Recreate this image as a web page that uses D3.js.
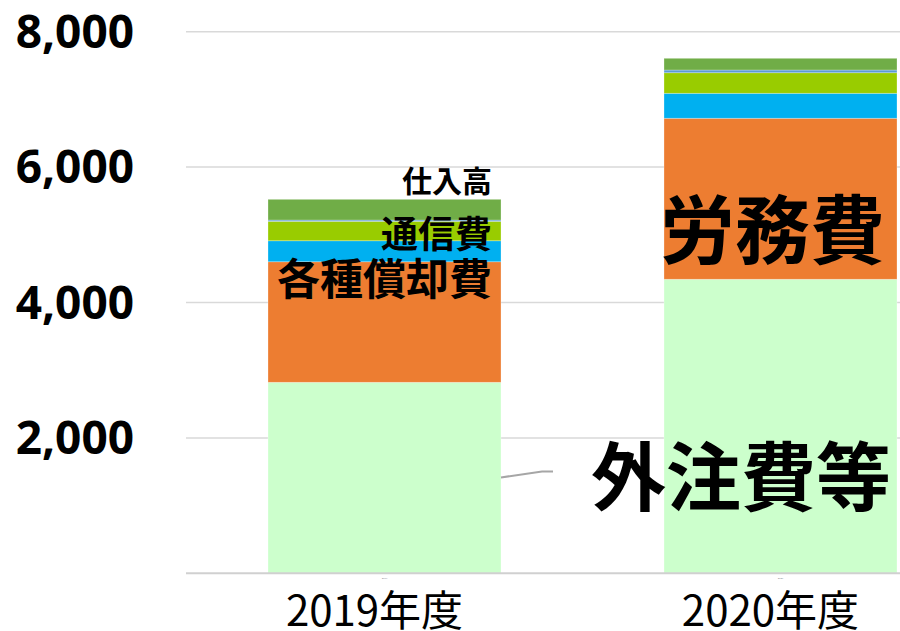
<!DOCTYPE html>
<html><head><meta charset="utf-8">
<script src="https://cdn.jsdelivr.net/npm/d3@7"></script>
<style>
html,body{margin:0;padding:0;background:#fff;}
svg{display:block;}
</style></head>
<body>
<script>
// ---- data ----
const years = ["2019年度", "2020年度"];
const seriesNames = ["外注費等", "労務費", "各種償却費", "通信費", "その他", "仕入高"];
const gaichu   = [2821, 4343];
const roumu    = [1781, 2378];
const shokyaku = [310, 369];
const tsushin  = [287, 304];
const sonota   = [19, 40];
const shiire   = [306, 173];
const colors = ["#ccffcc", "#ed7d31", "#00b0f0", "#99cc00", "#5b9bd5", "#70ad47"];
const yTicks = [2000, 4000, 6000, 8000];

const W = 900, H = 631;
const svg = d3.select("body").append("svg").attr("width", W).attr("height", H);

const y = d3.scaleLinear().domain([0, 8000]).range([573.3, 31.7]);
const x = d3.scaleBand().domain(years).range([268, 897]).paddingInner(0.4116).paddingOuter(0);

const seriesVals = [gaichu, roumu, shokyaku, tsushin, sonota, shiire];
const table = years.map((yr, i) => {
  const o = {year: yr};
  seriesNames.forEach((s, k) => o[s] = seriesVals[k][i]);
  return o;
});
const stacked = d3.stack().keys(seriesNames)(table);

// gridlines
svg.append("g").selectAll("line").data(yTicks).join("line")
  .attr("x1", 186).attr("x2", 900)
  .attr("y1", d => y(d)).attr("y2", d => y(d))
  .attr("stroke", "#d9d9d9").attr("stroke-width", 1.5);

// bars
svg.append("g").selectAll("g").data(stacked).join("g")
  .attr("fill", (d, i) => colors[i])
  .selectAll("rect").data(d => d).join("rect")
  .attr("x", d => x(d.data.year))
  .attr("width", x.bandwidth())
  .attr("y", d => y(d[1]))
  .attr("height", d => y(d[0]) - y(d[1]))
  .attr("stroke", "#ffffff").attr("stroke-opacity", 0.35).attr("stroke-width", 0.8);

// baseline
svg.append("line").attr("x1", 186).attr("x2", 900)
  .attr("y1", y(0)).attr("y2", y(0))
  .attr("stroke", "#d0d0d0").attr("stroke-width", 2);

// y tick labels
svg.append("g").selectAll("text").data(yTicks).join("text")
  .attr("x", 134).attr("y", d => y(d) + 16)
  .attr("text-anchor", "end")
  .attr("font-family", "'Open Sans', sans-serif")
  .attr("font-weight", 700).attr("font-size", 46)
  .attr("fill", "#000")
  .text(d => d3.format(",")(d));

// x labels
svg.append("g").selectAll("text").data(years).join("text")
  .attr("x", d => x(d) + x.bandwidth() / 2 - 10)
  .attr("y", 626)
  .attr("text-anchor", "middle")
  .attr("font-family", "'Noto Sans CJK JP', sans-serif")
  .attr("font-weight", 400).attr("font-size", 42)
  .attr("fill", "#000")
  .attr("transform", d => `translate(0,0)`)
  .text(d => d);

// tiny marks under the axis
svg.append("g").selectAll("text").data(years).join("text")
  .attr("x", d => x(d) + x.bandwidth() / 2)
  .attr("y", 579)
  .attr("text-anchor", "middle")
  .attr("font-family", "'Liberation Sans', sans-serif")
  .attr("font-size", 2.5).attr("fill", "#888")
  .text(d => d.slice(0, 4));

// leader line
const x1r = x(years[0]) + x.bandwidth();
svg.append("path")
  .attr("d", `M${x1r},${y(1416)} L${x1r + 41},${y(1505)} L${x1r + 52},${y(1505)}`)
  .attr("fill", "none").attr("stroke", "#a6a6a6").attr("stroke-width", 2);

// segment labels
const cjk = "'Noto Sans CJK JP', sans-serif";
const labels = [
  {t: "仕入高",     yr: 0, v: 5830, dx: -9,  size: 30},
  {t: "通信費",     yr: 0, v: 5040, dx: -9,  size: 37},
  {t: "各種償却費", yr: 0, v: 4385, dx: -9,  size: 43},
  {t: "労務費",     yr: 1, v: 5137, dx: -12, size: 75},
  {t: "外注費等",   yr: 1, v: 1488, dx: -6,  size: 75}
];
svg.append("g").selectAll("text").data(labels).join("text")
  .attr("x", d => x(years[d.yr]) + x.bandwidth() + d.dx)
  .attr("y", d => y(d.v))
  .attr("text-anchor", "end")
  .attr("dominant-baseline", "central")
  .attr("font-family", cjk)
  .attr("font-weight", 700)
  .attr("font-size", d => d.size)
  .attr("fill", "#000")
  .text(d => d.t);
</script>
</body></html>
